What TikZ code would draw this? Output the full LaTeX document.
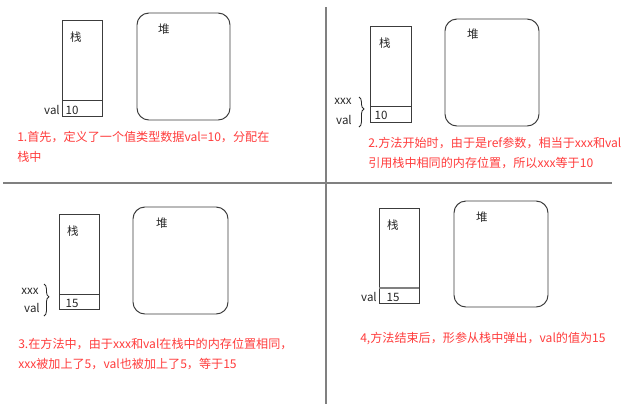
\documentclass[tikz,border=0pt]{standalone}
\usepackage{fontspec}
\setmainfont{Noto Sans CJK SC}
\usetikzlibrary{decorations.pathreplacing}
\definecolor{notered}{RGB}{255,60,60}
\definecolor{rulegray}{RGB}{128,128,128}
\definecolor{boxgray}{RGB}{60,60,60}
\begin{document}
\begin{tikzpicture}[x=0.025cm,y=-0.025cm,
    box/.style={draw=boxgray, line width=0.7pt},
    heapbox/.style={box, rounded corners=8.5pt},
    lbl/.style={inner sep=0pt, text=black!85, font=\fontsize{8.2}{10}\selectfont},
    note/.style={inner sep=0pt, anchor=west, text=notered, font=\fontsize{8.6}{10}\selectfont},
    brace/.style={draw=black!85, line width=0.6pt, decorate,
      decoration={brace, amplitude=3.5pt, aspect=0.4}},
    rule/.style={draw=rulegray, line width=1.5pt}]
  \useasboundingbox (0,0) rectangle (640,404);
  % panel separators
  \draw[rule] (3,183) -- (612,183);
  \draw[rule] (326,7) -- (326,404);
  % 1
  \draw[box] (62,20) rectangle (102,116) (62,100) -- (102,100);
  \draw[heapbox] (137,13) rectangle (230,120);
  \draw
    (76,37) node[lbl] (stackA){栈}
    (164,29) node[lbl] (heapA){堆}
    (52,110) node[lbl] (valA){val}
    (72,110) node[lbl] (cellA){10}
    (17,137) node[note] (noteA1){1.首先，定义了一个值类型数据val=10，分配在}
    (17,157) node[note] (noteA2){栈中};
  % 2
  \draw[box] (370,26) rectangle (411,122) (370,106) -- (411,106);
  \draw[heapbox] (445,19) rectangle (539,126);
  \draw
    (385,43) node[lbl] (stackB){栈}
    (473,34) node[lbl] (heapB){堆}
    (343,101) node[lbl] (xxxB){xxx}
    (344,120) node[lbl] (valB){val}
    (381,115) node[lbl] (cellB){10}
    (368,143) node[note] (noteB1){2.方法开始时，由于是ref参数，相当于xxx和val}
    (368,163) node[note] (noteB2){引用栈中相同的内存位置，所以xxx等于10};
  \coordinate (braceB1) at (359,97);
  \coordinate (braceB2) at (359,127);
  \draw[brace] (braceB1) -- (braceB2);
  % 3
  \draw[box] (59,214) rectangle (99,309) (59,294) -- (99,294);
  \draw[heapbox] (133,207) rectangle (228,314);
  \draw
    (73,231) node[lbl] (stackC){栈}
    (162,223) node[lbl] (heapC){堆}
    (30,291) node[lbl] (xxxC){xxx}
    (32,308) node[lbl] (valC){val}
    (72,303) node[lbl] (cellC){15}
    (18,344) node[note] (noteC1){3.在方法中，由于xxx和val在栈中的内存位置相同，}
    (18,364) node[note] (noteC2){xxx被加上了5，val也被加上了5，等于15};
  \coordinate (braceC1) at (44,284);
  \coordinate (braceC2) at (44,316);
  \draw[brace] (braceC1) -- (braceC2);
  % 4
  \draw[box] (379,208) rectangle (419,303);
  \draw[box, draw=rulegray, line width=1pt] (379,288) -- (419,288);
  \draw[heapbox] (454,201) rectangle (548,307);
  \draw
    (393,225) node[lbl] (stackD){栈}
    (482,217) node[lbl] (heapD){堆}
    (369,297) node[lbl] (valD){val}
    (393,297) node[lbl] (cellD){15}
    (360,339) node[note] (noteD){4,方法结束后，形参从栈中弹出，val的值为15};
\end{tikzpicture}
\end{document}
